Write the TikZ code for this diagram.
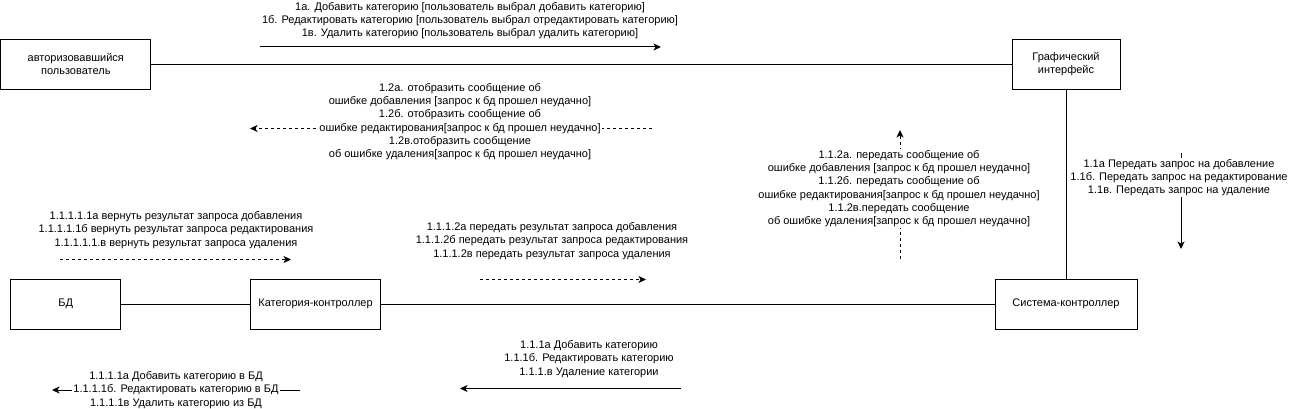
\documentclass[tikz,border=0pt]{standalone}
\usepackage{fontspec}
\setmainfont{Liberation Sans}
\usetikzlibrary{arrows.meta}
\tikzset{
  box/.style={draw, line width=1pt, align=center, inner sep=0pt, font=\fontsize{11}{13.3}\selectfont},
  lbl/.style={align=center, inner sep=1pt, font=\fontsize{11}{13.3}\selectfont},
  lblw/.style={lbl, fill=white},
  link/.style={line width=1pt},
  msg/.style={line width=1pt, -{Stealth[length=7.5pt,width=7pt,inset=2pt]}},
  dmsg/.style={msg, dash pattern=on 3pt off 3pt},
}
\begin{document}
\begin{tikzpicture}[x=1pt,y=-1pt]
\useasboundingbox (0,0) rectangle (1290,409);
% boxes
\node[box, minimum width=150pt, minimum height=50pt] (user) at (75.8,64.3) {авторизовавшийся\\пользователь};
\node[box, minimum width=108pt, minimum height=50pt] (gui) at (1066,64.3) {Графический\\интерфейс};
\node[box, minimum width=142pt, minimum height=50pt] (sys) at (1066,304) {Система-контроллер};
\node[box, minimum width=130pt, minimum height=50pt] (cat) at (315.5,304) {Категория-контроллер};
\node[box, minimum width=110pt, minimum height=50pt] (db) at (65.7,304) {БД};
% links
\draw[link] (user.east) -- (gui.west);
\draw[link] (gui.south) -- (sys.north);
\draw[link] (cat.east) -- (sys.west);
\draw[link] (db.east) -- (cat.west);
% message 1 (top)
\coordinate (m1s) at (260,47);
\coordinate (m1e) at (661,47);
\draw[msg] (m1s) -- (m1e);
\node[lbl] (m1l) at (470,20.5) {1а. Добавить категорию [пользователь выбрал добавить категорию]\\1б. Редактировать категорию [пользователь выбрал отредактировать категорию]\\1в. Удалить категорию [пользователь выбрал удалить категорию]};
% message 1.2 (dashed left)
\coordinate (m2s) at (652,128.5);
\coordinate (m2e) at (250,128.5);
\draw[dmsg] (m2s) -- (m2e);
\node[lblw] (m2l) at (460,121.5) {1.2а. отобразить сообщение об\\ошибке добавления [запрос к бд прошел неудачно]\\1.2б. отобразить сообщение об\\ошибке редактирования[запрос к бд прошел неудачно]\\1.2в.отобразить сообщение\\об ошибке удаления[запрос к бд прошел неудачно]};
% message 1.1.2 (dashed up)
\coordinate (m3s) at (900,259);
\coordinate (m3e) at (900,130);
\draw[dmsg] (m3s) -- (m3e);
\node[lblw] (m3l) at (899,188.5) {1.1.2а. передать сообщение об\\ошибке добавления [запрос к бд прошел неудачно]\\1.1.2б. передать сообщение об\\ошибке редактирования[запрос к бд прошел неудачно]\\1.1.2в.передать сообщение\\об ошибке удаления[запрос к бд прошел неудачно]};
% message 1.1 (down)
\coordinate (m4s) at (1181,153);
\coordinate (m4e) at (1181,249);
\draw[msg] (m4s) -- (m4e);
\node[lblw] (m4l) at (1179,177.5) {1.1а Передать запрос на добавление\\1.1б. Передать запрос на редактирование\\1.1в. Передать запрос на удаление};
% message 1.1.1.1.1 (dashed right)
\coordinate (m5s) at (60,259.5);
\coordinate (m5e) at (291,259.5);
\draw[dmsg] (m5s) -- (m5e);
\node[lbl] (m5l) at (176,230) {1.1.1.1.1а вернуть результат запроса добавления\\1.1.1.1.1б вернуть результат запроса редактирования\\1.1.1.1.1.в вернуть результат запроса удаления};
% message 1.1.1.2 (dashed right)
\coordinate (m6s) at (480,279.5);
\coordinate (m6e) at (646,279.5);
\draw[dmsg] (m6s) -- (m6e);
\node[lbl] (m6l) at (552,241) {1.1.1.2а передать результат запроса добавления\\1.1.1.2б передать результат запроса редактирования\\1.1.1.2в передать результат запроса удаления};
% message 1.1.1 (left)
\coordinate (m7s) at (681,388.5);
\coordinate (m7e) at (460,388.5);
\draw[msg] (m7s) -- (m7e);
\node[lbl] (m7l) at (589,359) {1.1.1а Добавить категорию\\1.1.1б. Редактировать категорию\\1.1.1.в Удаление категории};
% message 1.1.1.1 (left)
\coordinate (m8s) at (300,390);
\coordinate (m8e) at (52,390);
\draw[msg] (m8s) -- (m8e);
\node[lblw] (m8l) at (176,390) {1.1.1.1а Добавить категорию в БД\\1.1.1.1б. Редактировать категорию в БД\\1.1.1.1в Удалить категорию из БД};
\end{tikzpicture}
\end{document}
